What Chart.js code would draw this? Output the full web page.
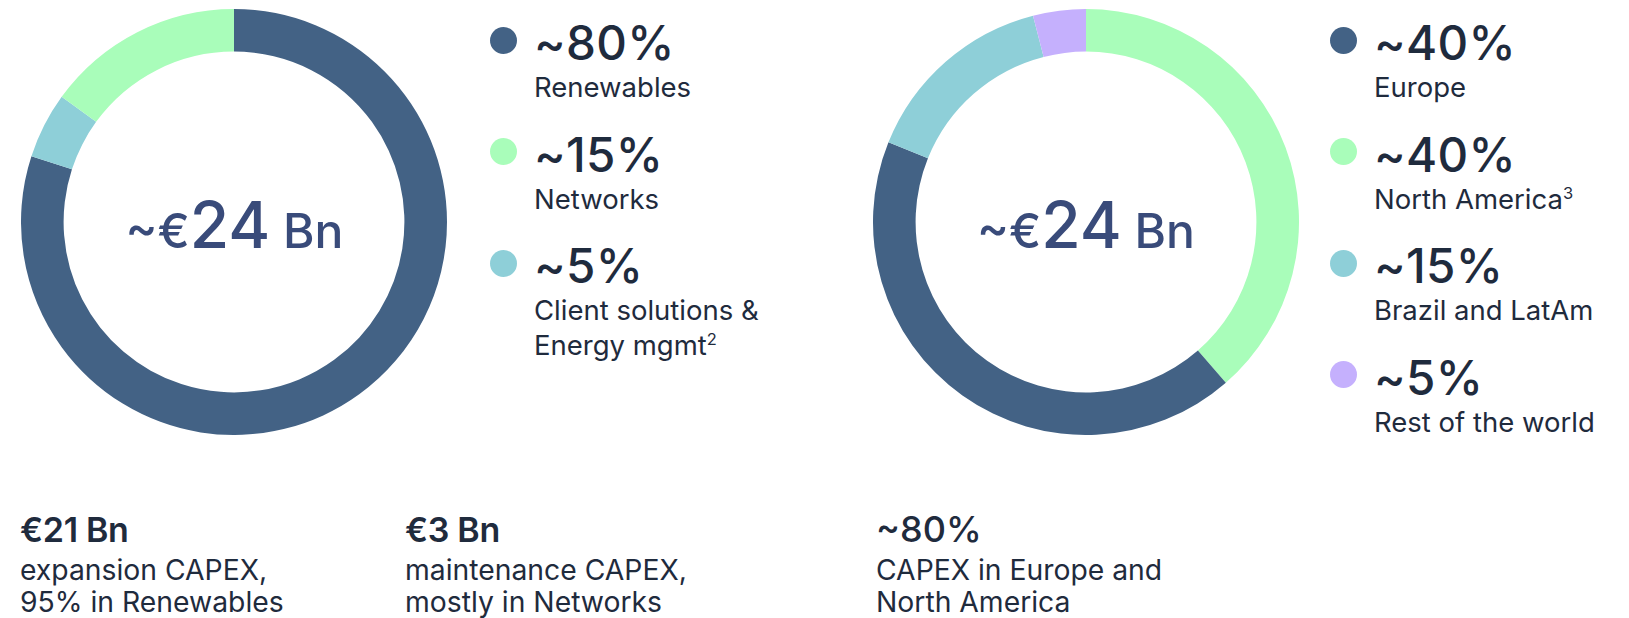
<!DOCTYPE html>
<html><head><meta charset="utf-8">
<script src="https://cdn.jsdelivr.net/npm/chart.js@4.4.1/dist/chart.umd.min.js"></script>
<style>
html,body{margin:0;padding:0;background:#fff;}
body{width:1629px;height:618px;position:relative;overflow:hidden;font-family:Inter,"Noto Sans",sans-serif;color:#1f2b3d;}
.abs{position:absolute;white-space:nowrap;}
.chartbox{position:absolute;width:426px;height:426px;}
.dot{position:absolute;width:27px;height:27px;border-radius:50%;}
sup{font-size:0.6em;line-height:0;vertical-align:0.6em;}
</style></head><body>
<div class="chartbox" style="left:21px;top:9px"><canvas id="c1"></canvas></div>
<div class="chartbox" style="left:873px;top:9px"><canvas id="c2"></canvas></div>
<script>
// ---- Left donut: CAPEX by business ----
const businessCategories = ['Renewables', 'Client solutions & Energy mgmt', 'Networks'];
const businessValues = [80, 5, 15];
const businessColors = ['#436285', '#8ECFD8', '#A9FDBA'];
const businessLegendPct = ['~80%', '~15%', '~5%'];
const businessLegendLabels = [['Renewables'], ['Networks'], ['Client solutions &', 'Energy mgmt<sup>2</sup>']];
const businessLegendColors = ['#436285', '#A9FDBA', '#8ECFD8'];

// ---- Right donut: CAPEX by geography ----
const regionCategories = ['North America', 'Europe', 'Brazil and LatAm', 'Rest of the world'];
const regionValues = [38.6, 42.5, 14.9, 4.0];
const regionColors = ['#A9FDBA', '#436285', '#8ECFD8', '#C5B0FD'];
const regionLegendPct = ['~40%', '~40%', '~15%', '~5%'];
const regionLegendLabels = [['Europe'], ['North America<sup>3</sup>'], ['Brazil and LatAm'], ['Rest of the world']];
const regionLegendColors = ['#436285', '#A9FDBA', '#8ECFD8', '#C5B0FD'];

const centerTotal = ['~€', '24', 'Bn'];

const bottomHeadings = ['€21 Bn', '€3 Bn', '~80%'];
const bottomTexts = [['expansion CAPEX,', '95% in Renewables'], ['maintenance CAPEX,', 'mostly in Networks'], ['CAPEX in Europe and', 'North America']];

function makeDonut(id, labels, values, colors) {
  new Chart(document.getElementById(id), {
    type: 'doughnut',
    data: { labels: labels, datasets: [{ data: values, backgroundColor: colors, borderWidth: 0, hoverOffset: 0, offset: 0 }] },
    options: {
      responsive: true, maintainAspectRatio: false, animation: false,
      cutout: '80%',
      layout: { padding: 0 },
      plugins: { legend: { display: false }, tooltip: { enabled: false } },
      events: []
    }
  });
}
makeDonut('c1', businessCategories, businessValues, businessColors);
makeDonut('c2', regionCategories, regionValues, regionColors);

function place(html, x, baseline, F, L, extra) {
  const d = document.createElement('div');
  d.className = 'abs';
  d.innerHTML = html;
  d.style.fontSize = F + 'px';
  d.style.lineHeight = L + 'px';
  d.style.left = x + 'px';
  d.style.top = (baseline - (L / 2 + 0.3633 * F)) + 'px';
  if (extra) Object.assign(d.style, extra);
  document.body.appendChild(d);
  return d;
}

function legend(dotX, textX, pcts, labels, colors) {
  for (let i = 0; i < pcts.length; i++) {
    const b = 60 + i * 111.5;
    const dot = document.createElement('div');
    dot.className = 'dot';
    dot.style.background = colors[i];
    dot.style.left = (dotX - 13.5) + 'px';
    dot.style.top = (b - 20 - 13.5) + 'px';
    document.body.appendChild(dot);
    place(pcts[i], textX, b, 47.5, 47, { fontWeight: 500, letterSpacing: '0.3px' });
    labels[i].forEach((t, j) => place(t, textX, b + 37.5 + j * 35, 27.5, 35, { fontWeight: 400 }));
  }
}
legend(503, 534, businessLegendPct, businessLegendLabels, businessLegendColors);
legend(1343, 1374, regionLegendPct, regionLegendLabels, regionLegendColors);

function center(cx) {
  const html = '<span style="font-size:48px">' + centerTotal[0] + '</span>' + centerTotal[1] +
               '<span style="font-size:48px"> ' + centerTotal[2] + '</span>';
  place(html, cx - 200, 248, 64, 64, { width: '400px', textAlign: 'center', color: '#394b7a', fontWeight: 500 });
}
center(234.5);
center(1086);

const colX = [20, 405, 876];
bottomHeadings.forEach((h, i) => {
  const F = i === 2 ? 36 : 34;
  place(h, colX[i], 542, F, F, { fontWeight: i === 2 ? 500 : 600, letterSpacing: i === 2 ? '0px' : '-0.3px' });
  bottomTexts[i].forEach((t, j) => place(t, colX[i], 580 + j * 32, 28.3, 32, { fontWeight: 400 }));
});
</script>
</body></html>
